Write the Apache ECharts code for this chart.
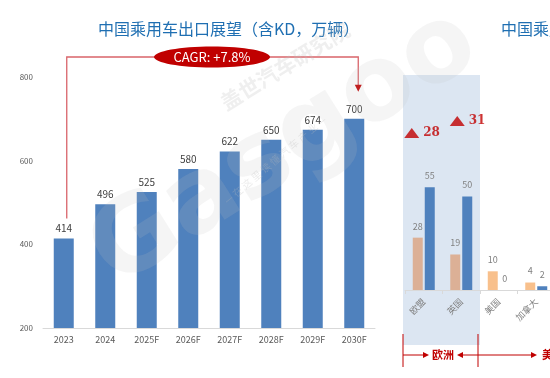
<!DOCTYPE html>
<html><head><meta charset="utf-8">
<script src="https://cdn.jsdelivr.net/npm/echarts@6/dist/echarts.min.js"></script>
<style>html,body{margin:0;padding:0;background:#fff;}#c{width:550px;height:378px;}</style>
</head><body><div id="c"></div>
<script>
// Left chart data
var years = ['2023','2024','2025F','2026F','2027F','2028F','2029F','2030F'];
var exportsVal = [414,496,525,580,622,650,674,700];
var yTicks = [200,400,600,800];
var cagrText = 'CAGR: +7.8%';
// Right chart data
var markets = ['欧盟','英国','美国','加拿大'];
var seriesA = [28,19,10,4];
var seriesB = [55,50,0,2];
var growth = [28,31];
var regions = ['欧洲','美洲'];

var FONT = '"Noto Sans CJK SC","Noto Sans",sans-serif';
var BLUE = '#4f81bd', RED = '#c00000';
var chart = echarts.init(document.getElementById('c'));

var option = {
  animation:false,
  textStyle:{fontFamily:FONT},
  title:[
    {text:'中国乘用车出口展望（含KD，万辆）',left:93,top:16,textStyle:{color:'#1f6fb2',fontSize:16,fontWeight:'normal',fontFamily:FONT}},
    {text:'中国乘用车出口结构',left:496,top:16,textStyle:{color:'#1f6fb2',fontSize:16,fontWeight:'normal',fontFamily:FONT}}
  ],
  grid:[
    {left:43,right:175,top:77,bottom:50,outerBoundsMode:'none'},
    {left:405,width:150,top:75,bottom:88,outerBoundsMode:'none'}
  ],
  xAxis:[
    {type:'category',gridIndex:0,data:years,axisTick:{show:false},
     axisLine:{lineStyle:{color:'#d9d9d9'}},
     axisLabel:{color:'#595959',fontSize:9,margin:7}},
    {type:'category',gridIndex:1,data:markets,
     axisTick:{show:true,length:4,lineStyle:{color:'#d9d9d9'}},
     axisLine:{lineStyle:{color:'#d9d9d9'}},
     axisLabel:{color:'#808080',fontSize:9,rotate:45,margin:10}}
  ],
  yAxis:[
    {type:'value',gridIndex:0,min:200,max:800,interval:200,splitLine:{show:false},
     axisLine:{show:false},axisTick:{show:false},
     axisLabel:{color:'#595959',fontSize:8,margin:10}},
    {type:'value',gridIndex:1,min:0,max:115,show:false,splitLine:{show:false}},
    {type:'value',gridIndex:1,min:-11.25,max:42.5,show:false,splitLine:{show:false}}
  ],
  series:[
    {type:'bar',xAxisIndex:0,yAxisIndex:0,data:exportsVal,barWidth:20,
     itemStyle:{color:BLUE},
     label:{show:true,position:'top',color:'#404040',fontSize:10,distance:5}},
    {type:'bar',xAxisIndex:1,yAxisIndex:1,barWidth:10,barGap:'20%',
     data:seriesA.map(function(v,i){return {value:v,itemStyle:{color:i<2?'#dcb096':'#f8c08c'}};}),
     label:{show:true,position:'top',color:'#808080',fontSize:9,distance:7}},
    {type:'bar',xAxisIndex:1,yAxisIndex:1,barWidth:10,data:seriesB,
     itemStyle:{color:BLUE},
     label:{show:true,position:'top',color:'#808080',fontSize:9,distance:7}},
    {type:'scatter',xAxisIndex:1,yAxisIndex:2,symbol:'triangle',symbolSize:[15,10],
     itemStyle:{color:RED},
     data:growth.map(function(v,i){return {value:[markets[i],v],symbolOffset:[i===0?-12:-4,0]};}),
     label:{show:true,position:'right',color:RED,fontSize:12,fontWeight:'bold',distance:4,
       fontFamily:'"DejaVu Serif",serif',
       formatter:function(p){return p.value[1];}}}
  ]
};
chart.setOption(option);

function px(g,pt){return chart.convertToPixel({gridIndex:g},pt);}
var p0 = px(0,[years[0],exportsVal[0]]);
var pN = px(0,[years[years.length-1],exportsVal[exportsVal.length-1]]);
var topY = 57;
var cx = 212;
var band = px(1,[markets[1],0])[0]-px(1,[markets[0],0])[0];
var e0 = px(1,[markets[0],0])[0]-band/2;
var e2 = e0+2*band;

var g = [];
// watermark
g.push({type:'text',x:285,y:150,rotation:0.56,z:50,silent:true,
  style:{text:'Gasgoo',fontSize:104,fontWeight:'bold',fontFamily:'"DejaVu Sans",sans-serif',fill:'rgba(190,190,190,0.16)',align:'center',verticalAlign:'middle'}});
g.push({type:'text',x:285,y:66,rotation:0.55,z:50,silent:true,
  style:{text:'盖世汽车研究院',fontSize:21,fontWeight:'bold',fontFamily:FONT,fill:'rgba(190,190,190,0.25)',align:'center',verticalAlign:'middle'}});
g.push({type:'text',x:275,y:160,rotation:0.7,z:50,silent:true,
  style:{text:'— 在 这 里 读 懂 汽 车 产 业 —',fontSize:10,fontFamily:FONT,fill:'rgba(190,190,190,0.3)',align:'center',verticalAlign:'middle'}});
// CAGR connector
g.push({type:'polyline',z:10,shape:{points:[[p0[0]+3,p0[1]-20],[p0[0]+3,topY],[pN[0]+4,topY],[pN[0]+4,pN[1]-30]]},
  style:{stroke:'#d9646a',lineWidth:1.3,fill:null}});
g.push({type:'polygon',z:10,shape:{points:[[pN[0]+0.5,pN[1]-34],[pN[0]+7.5,pN[1]-34],[pN[0]+4,pN[1]-27]]},style:{fill:RED}});
g.push({type:'ellipse',z:11,shape:{cx:cx,cy:topY,rx:58,ry:10.5},style:{fill:RED}});
g.push({type:'text',z:12,x:cx,y:topY,style:{text:cagrText,fill:'#fff',fontSize:13,fontFamily:FONT,align:'center',verticalAlign:'middle'}});
// right panel background
g.push({type:'rect',z:-1,shape:{x:e0-2,y:75,width:e2-e0+2,height:270},style:{fill:'#dce6f2'}});
// region brackets
var by = 355;
var L = e0-2, R = e2-2;
g.push({type:'line',z:10,shape:{x1:L,y1:334,x2:L,y2:367},style:{stroke:RED,lineWidth:1}});
g.push({type:'line',z:10,shape:{x1:R,y1:334,x2:R,y2:367},style:{stroke:RED,lineWidth:1}});
g.push({type:'line',z:10,shape:{x1:L,y1:by,x2:L+22,y2:by},style:{stroke:RED,lineWidth:1}});
g.push({type:'polygon',z:10,shape:{points:[[L+20,by-3],[L+26,by],[L+20,by+3]]},style:{fill:RED}});
g.push({type:'text',z:10,x:L+40,y:by,style:{text:regions[0],fill:RED,fontSize:11,fontWeight:'bold',fontFamily:FONT,align:'center',verticalAlign:'middle'}});
g.push({type:'polygon',z:10,shape:{points:[[L+60,by-3],[L+54,by],[L+60,by+3]]},style:{fill:RED}});
g.push({type:'line',z:10,shape:{x1:L+58,y1:by,x2:R+55,y2:by},style:{stroke:RED,lineWidth:1}});
g.push({type:'polygon',z:10,shape:{points:[[R+53,by-3],[R+59,by],[R+53,by+3]]},style:{fill:RED}});
g.push({type:'text',z:10,x:R+64,y:by,style:{text:regions[1],fill:RED,fontSize:11,fontWeight:'bold',fontFamily:FONT,align:'left',verticalAlign:'middle'}});
chart.setOption({graphic:g});
</script></body></html>
